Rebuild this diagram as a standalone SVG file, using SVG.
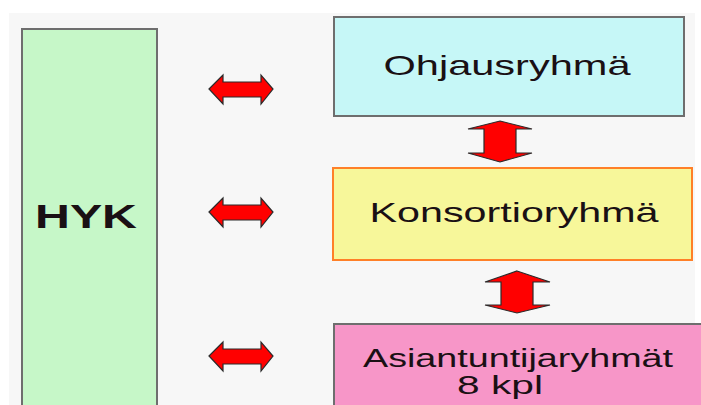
<svg xmlns="http://www.w3.org/2000/svg" xmlns:xlink="http://www.w3.org/1999/xlink" width="701" height="405" viewBox="0 0 701 405">
<style>
.box{stroke:#6e6e6e;stroke-width:2}
.lbl{font-family:"Liberation Sans",Arial,sans-serif;font-size:28px;fill:#1a1014;text-anchor:middle}
.sm{font-size:25px}
.arr{fill:#ff0000;stroke:#2a2a2a;stroke-width:1.2;stroke-linejoin:miter}
</style>
<defs>
<path id="harr" d="M0,0 L14,-14 L14,-7 L52,-7 L52,-14 L64,0 L52,15 L52,8 L14,8 L14,15 Z"/>
</defs>
<rect x="0" y="0" width="701" height="405" fill="#ffffff"/>
<rect x="9" y="13" width="686" height="392" fill="#f7f7f7"/>
<g id="hyk">
<rect class="box" x="22" y="29" width="135" height="380" fill="#c6f7c8"/>
<text class="lbl" x="86" y="228" style="font-weight:bold;font-size:33px" textLength="102" lengthAdjust="spacingAndGlyphs">HYK</text>
</g>
<g id="ohjausryhma">
<rect class="box" x="334" y="17" width="350" height="99" fill="#c6f7f7"/>
<text class="lbl" x="507" y="75" textLength="247" lengthAdjust="spacingAndGlyphs">Ohjausryhmä</text>
</g>
<g id="konsortioryhma">
<rect x="333" y="168" width="359" height="92" fill="#f7f79a" stroke="#ff8028" stroke-width="2"/>
<text class="lbl" x="514" y="222" textLength="289" lengthAdjust="spacingAndGlyphs">Konsortioryhmä</text>
</g>
<g id="asiantuntijaryhmat">
<rect class="box" x="334" y="324" width="372" height="90" fill="#f796c8"/>
<text class="lbl sm" x="518" y="367" textLength="310" lengthAdjust="spacingAndGlyphs">Asiantuntijaryhmät</text>
<text class="lbl sm" x="500" y="394" textLength="86" lengthAdjust="spacingAndGlyphs">8 kpl</text>
</g>
<g id="connectors">
<use xlink:href="#harr" class="arr" transform="translate(209,89)"/>
<use xlink:href="#harr" class="arr" transform="translate(209,212)"/>
<use xlink:href="#harr" class="arr" transform="translate(209,356)"/>
<path class="arr" d="M500,121 L532,129 L516,129 L516,153 L532,153 L500,162 L468,153 L484,153 L484,129 L468,129 Z"/>
<path class="arr" d="M517,271 L550,282 L533,282 L533,305 L550,305 L517,313 L485,305 L501,305 L501,282 L485,282 Z"/>
</g>
</svg>
